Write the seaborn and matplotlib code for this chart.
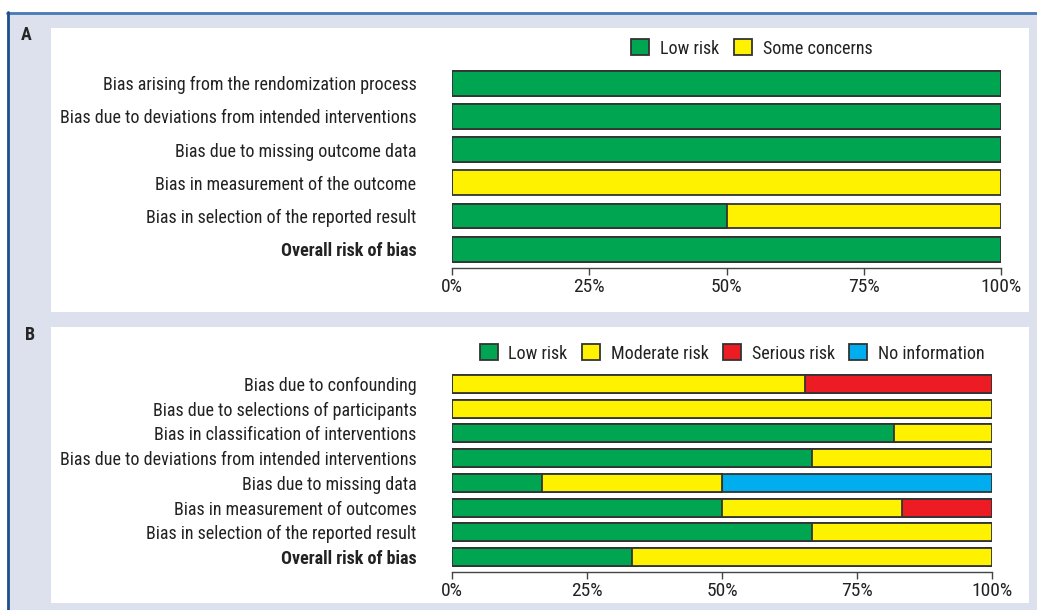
import numpy as np
import pandas as pd
import matplotlib
matplotlib.use("Agg")
import matplotlib.pyplot as plt
import seaborn as sns
from matplotlib.patches import Patch, Rectangle
from matplotlib import font_manager as fm

# data, panel A
domains_a = ["Bias arising from the rendomization process",
             "Bias due to deviations from intended interventions",
             "Bias due to missing outcome data",
             "Bias in measurement of the outcome",
             "Bias in selection of the reported result",
             "Overall risk of bias"]
cats_a = ["Low risk", "Some concerns"]
low_a = [100, 100, 100, 0, 50, 100]
some_a = [0, 0, 0, 100, 50, 0]

# data, panel B
domains_b = ["Bias due to confounding",
             "Bias due to selections of participants",
             "Bias in classification of interventions",
             "Bias due to deviations from intended interventions",
             "Bias due to missing data",
             "Bias in measurement of outcomes",
             "Bias in selection of the reported result",
             "Overall risk of bias"]
cats_b = ["Low risk", "Moderate risk", "Serious risk", "No information"]
low_b = [0, 0, 81.8, 66.7, 16.7, 50, 66.7, 33.3]
moderate_b = [65.4, 100, 18.2, 33.3, 33.3, 33.3, 33.3, 66.7]
serious_b = [34.6, 0, 0, 0, 0, 16.7, 0, 0]
noinfo_b = [0, 0, 0, 0, 50, 0, 0, 0]

colors = {"Low risk": "#00a551", "Some concerns": "#fff200",
          "Moderate risk": "#fff200", "Serious risk": "#ed1c24",
          "No information": "#00aeef"}
edge = "#333333"

sns.set_style("white")

# condensed face like the original, fall back to a smaller regular one
installed = {f.name for f in fm.fontManager.ttflist}
narrow = [f for f in ["Roboto Condensed", "Archivo Narrow", "Liberation Sans Narrow"]
          if f in installed]
if narrow:
    plt.rcParams["font.family"] = [narrow[0], "DejaVu Sans"]
    FS, TFS = 13, 14
else:
    plt.rcParams["font.family"] = ["Liberation Sans", "DejaVu Sans"]
    FS, TFS = 10.5, 11

fig = plt.figure(figsize=(10.37, 6.1), dpi=100)
fig.patch.set_facecolor("white")
W, H = 1037, 610

def box(x0, y0, x1, y1, color):
    fig.add_artist(Rectangle((x0 / W, 1 - y1 / H), (x1 - x0) / W, (y1 - y0) / H,
                             transform=fig.transFigure, facecolor=color,
                             edgecolor="none", zorder=-10))

# background panels
box(7, 12, W, H, "#dde1ee")
box(51, 28, 1029, 312, "white")
box(51, 327, 1029, 603, "white")
fig.add_artist(plt.Line2D([7 / W, 1], [1 - 12.5 / H] * 2, color="#4a7ab5", lw=2,
                          transform=fig.transFigure))
fig.add_artist(plt.Line2D([7.5 / W] * 2, [0, 1 - 12 / H], color="#1f4e8c", lw=2,
                          transform=fig.transFigure))
fig.text(26 / W, 1 - 35 / H, "A", fontsize=FS, fontweight="bold", ha="center", va="center")
fig.text(30 / W, 1 - 335 / H, "B", fontsize=FS, fontweight="bold", ha="center", va="center")


def panel(rect, domains, cats, series, bar_w, ylim_bottom, leg_x):
    ax = fig.add_axes(rect)
    df = pd.DataFrame(dict(zip(cats, series)), index=domains)
    cum = df.cumsum(axis=1)
    # draw from the largest cumulative total down so segments stack
    for cat in reversed(cats):
        sns.barplot(x=cum[cat].values, y=domains, orient="h", color=colors[cat],
                    edgecolor=edge, linewidth=1.3, width=bar_w, saturation=1,
                    ax=ax)
    ax.set_xlim(0, 100)
    ax.set_ylim(ylim_bottom, -0.5)
    ax.set_xticks([0, 25, 50, 75, 100])
    ax.set_xticklabels(["0%", "25%", "50%", "75%", "100%"])
    ax.set_facecolor("none")
    for s in ["top", "right", "left"]:
        ax.spines[s].set_visible(False)
    ax.spines["bottom"].set_color("#444444")
    ax.spines["bottom"].set_linewidth(1)
    ax.tick_params(axis="x", bottom=True, length=5, width=1, color="#444444",
                   labelsize=TFS, pad=2, labelcolor="#222222")
    ax.tick_params(axis="y", left=False, labelsize=FS, pad=22, labelcolor="#222222")
    for lab in ax.get_yticklabels():
        if lab.get_text() == "Overall risk of bias":
            lab.set_fontweight("bold")
    ax.set_xlabel("")
    ax.set_ylabel("")
    handles = [Patch(facecolor=colors[c], edgecolor=edge, linewidth=1.3, label=c)
               for c in cats]
    ax.legend(handles=handles, loc="lower center", bbox_to_anchor=(leg_x, 1.0),
              ncol=len(cats), frameon=False, fontsize=FS, handlelength=1.0,
              handleheight=1.0, handletextpad=0.6, columnspacing=0.8,
              borderaxespad=0.1, labelcolor="#222222")
    return ax


panel([452 / W, 1 - 268 / H, 549 / W, (268 - 66.6) / H], domains_a, cats_a,
      [low_a, some_a], 0.75, 5.566, 0.546)
panel([452 / W, 1 - 572 / H, 540 / W, (572 - 371.6) / H], domains_b, cats_b,
      [low_b, moderate_b, serious_b, noinfo_b], 0.73, 7.607, 0.519)

fig.savefig("out.png", dpi=100)
